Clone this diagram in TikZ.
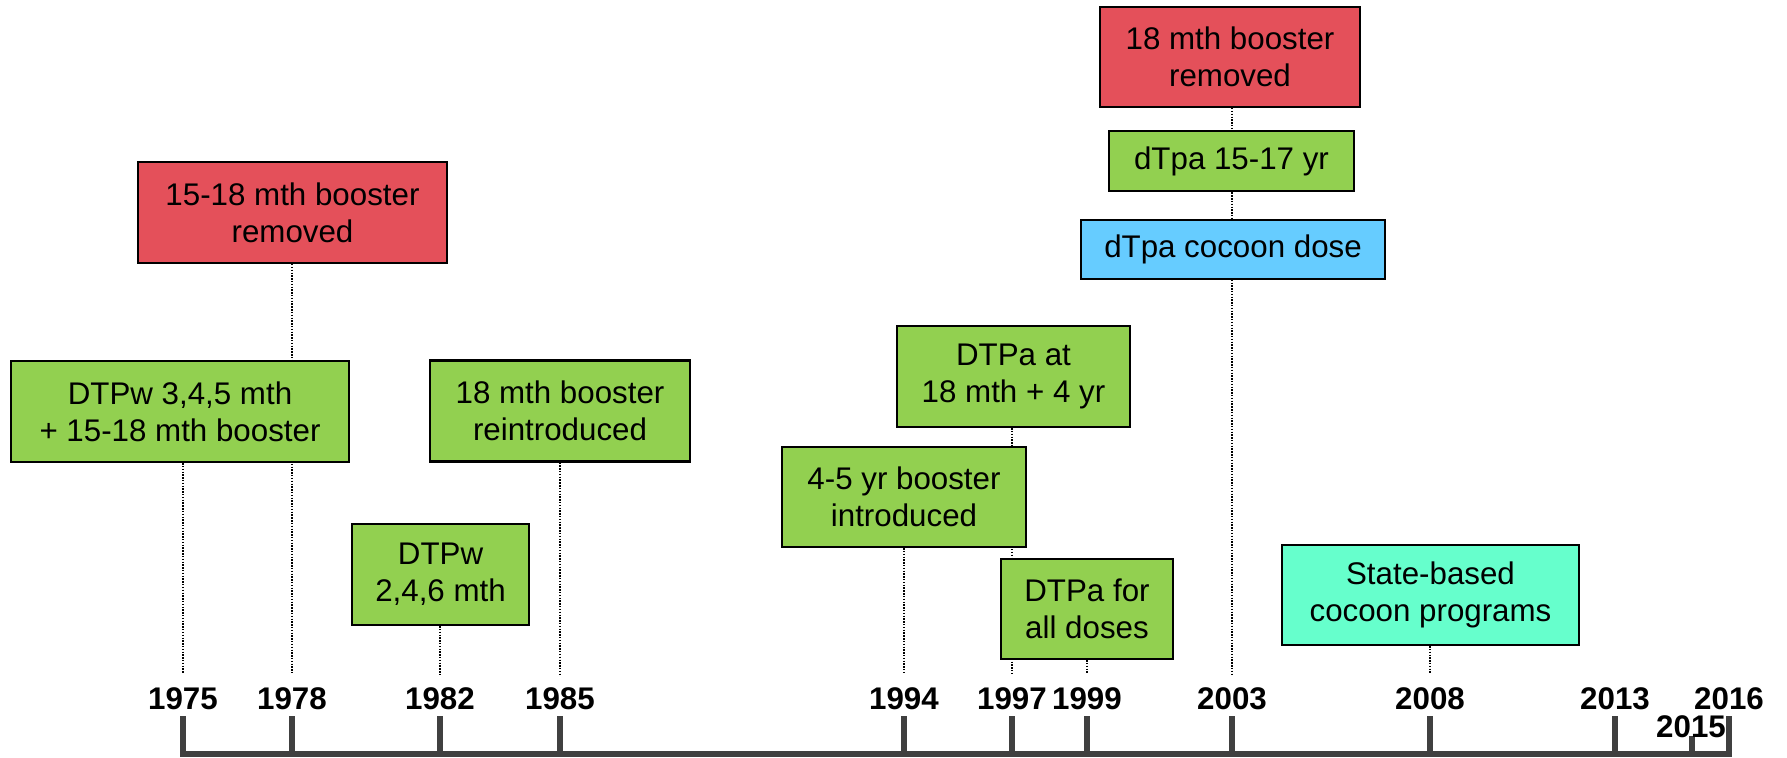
\documentclass[tikz,border=0pt]{standalone}
\usepackage{fontspec}
\setmainfont{Liberation Sans}
\usetikzlibrary{backgrounds}
\definecolor{boxred}{HTML}{E4505A}
\definecolor{boxgreen}{HTML}{92D050}
\definecolor{boxblue}{HTML}{66CCFF}
\definecolor{boxteal}{HTML}{66FFCC}
\definecolor{axisgray}{HTML}{404040}
\newcommand{\boxfont}{\fontsize{8.9}{10.6}\selectfont}
\newcommand{\yearfont}{\fontsize{8.9}{10}\selectfont\bfseries}
\tikzset{
  event/.style={draw=black, line width=0.6pt, align=center, inner sep=0pt, font=\boxfont},
  link/.style={line width=0.7pt, dash pattern=on 0.4pt off 0.4pt},
  yearlbl/.style={font=\yearfont, anchor=base, inner sep=0pt},
  tick/.style={axisgray, line width=1.7pt},
}
\begin{document}
\begin{tikzpicture}[x=0.01cm, y=-0.01cm]
 \useasboundingbox (0,0) rectangle (1787,757);
 % time axis
 \draw[tick] (180,754) -- (1732,754);
 \foreach \yr/\xx in {1975/183, 1978/292, 1982/440, 1985/560, 1994/904, 1997/1012,
                      1999/1087, 2003/1232, 2008/1430, 2013/1615, 2016/1729}{
   \draw[tick] (\xx,716) -- (\xx,754);
   \node[yearlbl] (y\yr) at (\xx,709) {\yr};
   \coordinate (t\yr) at (\xx,674);
 }
 \draw[tick] (1692,736) -- (1692,754);
 \node[yearlbl] (y2015) at (1691,737) {2015};
 % events
 \node[event, fill=boxred, minimum width=3.09cm, minimum height=1.01cm] (red1) at (292.5,212.5) {15-18 mth booster\\removed};
 \node[event, fill=boxgreen, minimum width=3.38cm, minimum height=1.01cm] (dtpw1) at (180,411.5) {DTPw 3,4,5 mth\\+ 15-18 mth booster};
 \node[event, fill=boxgreen, minimum width=2.6cm, minimum height=1.01cm] (reintro) at (560,411) {18 mth booster\\reintroduced};
 \node[event, fill=boxgreen, minimum width=1.77cm, minimum height=1.01cm] (dtpw2) at (440.5,574.5) {DTPw\\2,4,6 mth};
 \node[event, fill=boxgreen, minimum width=2.33cm, minimum height=1.01cm] (dtpa1) at (1013.5,376.5) {DTPa at\\18 mth + 4 yr};
 \node[event, fill=boxgreen, minimum width=2.44cm, minimum height=1.0cm] (intro) at (904,497) {4-5 yr booster\\introduced};
 \node[event, fill=boxgreen, minimum width=1.72cm, minimum height=1.0cm] (dtpa2) at (1087,609) {DTPa for\\all doses};
 \node[event, fill=boxred, minimum width=2.6cm, minimum height=1.0cm] (red2) at (1230,57) {18 mth booster\\removed};
 \node[event, fill=boxgreen, minimum width=2.45cm, minimum height=0.6cm] (teen) at (1231.5,161) {dTpa 15-17 yr};
 \node[event, fill=boxblue, minimum width=3.04cm, minimum height=0.59cm] (cocoon) at (1233,249.5) {dTpa cocoon dose};
 \node[event, fill=boxteal, minimum width=2.97cm, minimum height=1.0cm] (state) at (1430.5,595) {State-based\\cocoon programs};
 % dotted links, behind the boxes
 \begin{scope}[on background layer]
  \draw[link] (t1975 |- dtpw1.south) -- (t1975);
  \draw[link] (t1978 |- red1.south) -- (t1978);
  \draw[link] (t1982 |- dtpw2.south) -- (t1982);
  \draw[link] (t1985 |- reintro.south) -- (t1985);
  \draw[link] (t1994 |- intro.south) -- (t1994);
  \draw[link] (t1997 |- dtpa1.south) -- (t1997);
  \draw[link] (t1999 |- dtpa2.south) -- (t1999);
  \draw[link] (t2003 |- red2.south) -- (t2003);
  \draw[link] (t2008 |- state.south) -- (t2008);
 \end{scope}
\end{tikzpicture}
\end{document}
